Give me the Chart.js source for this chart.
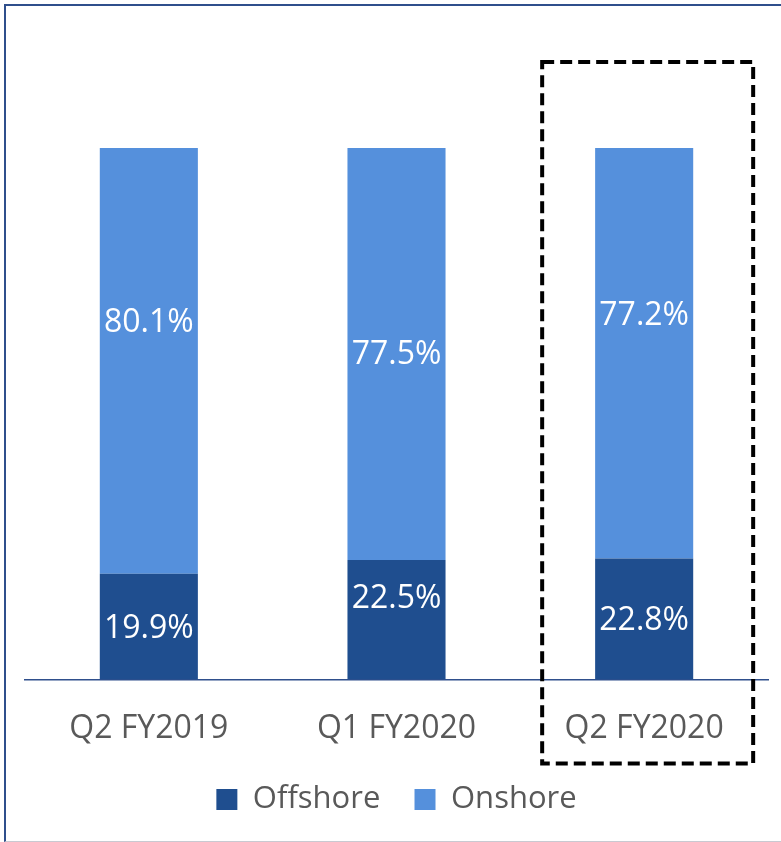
<!DOCTYPE html>
<html>
<head>
<meta charset="utf-8">
<script src="https://cdn.jsdelivr.net/npm/chart.js@4.4.0/dist/chart.umd.min.js"></script>
<style>
  body { margin: 0; background: #fff; }
  #wrap { position: relative; width: 781px; height: 842px; overflow: hidden; }
  #frame {
    position: absolute; left: 4px; top: 4px; width: 800px; height: 835px;
    border-top: 2px solid #2f4f8c; border-left: 2px solid #2f4f8c;
    border-bottom: 1px solid #c9c9d1;
  }
  #chartBox { position: absolute; left: 0; top: 0; width: 781px; height: 842px; }
</style>
</head>
<body>
<div id="wrap">
  <div id="frame"></div>
  <div id="chartBox"><canvas id="chart"></canvas></div>
</div>
<script>
// data
const categories = ["Q2 FY2019", "Q1 FY2020", "Q2 FY2020"];
const offshore = [19.9, 22.5, 22.8];
const onshore = [80.1, 77.5, 77.2];

// label nudges (px) - labels were moved by hand in the original
const offshoreShift = [2, -21, 2];
const onshoreShift = [-38, 1, -37];

const highlightIndex = 2;

// draws the % labels inside the bars
const barLabels = {
  id: "barLabels",
  afterDatasetsDraw(chart) {
    const ctx = chart.ctx;
    ctx.save();
    ctx.fillStyle = "#ffffff";
    ctx.font = "32px 'Open Sans'";
    ctx.textAlign = "center";
    ctx.textBaseline = "middle";
    chart.data.datasets.forEach((ds, di) => {
      const meta = chart.getDatasetMeta(di);
      const shift = di === 0 ? offshoreShift : onshoreShift;
      meta.data.forEach((bar, i) => {
        const mid = (bar.y + bar.base) / 2;
        ctx.fillText(ds.data[i].toFixed(1) + "%", bar.x, mid + shift[i]);
      });
    });
    ctx.restore();
  }
};

// dashed box around the latest quarter
const highlightBox = {
  id: "highlightBox",
  afterDraw(chart) {
    const x = chart.scales.x.getPixelForValue(highlightIndex);
    const top = chart.scales.y.getPixelForValue(100) - 86;
    const bottom = chart.chartArea.bottom + 84;
    const ctx = chart.ctx;
    ctx.save();
    ctx.strokeStyle = "#000";
    ctx.lineWidth = 4;
    ctx.setLineDash([12, 6]);
    ctx.strokeRect(x - 102, top, 211, bottom - top);
    ctx.restore();
  }
};

new Chart(document.getElementById("chart"), {
  type: "bar",
  data: {
    labels: categories,
    datasets: [
      { label: "Offshore", data: offshore, backgroundColor: "#1f4e8f" },
      { label: "Onshore", data: onshore, backgroundColor: "#5590dc" }
    ]
  },
  options: {
    responsive: true,
    maintainAspectRatio: false,
    animation: false,
    layout: { padding: { top: 148, left: 25, right: 13, bottom: 17 } },
    datasets: { bar: { categoryPercentage: 1, barPercentage: 0.396 } },
    scales: {
      x: {
        stacked: true,
        grid: { display: false },
        border: { display: true, color: "#2f4f8c", width: 1.5 },
        ticks: { color: "#595959", font: { family: "Open Sans", size: 32 }, padding: 22 },
        afterFit(scale) { scale.height = scale.height + 4; }
      },
      y: { stacked: true, display: false, min: 0, max: 100 }
    },
    plugins: {
      tooltip: { enabled: false },
      legend: {
        position: "bottom",
        labels: {
          color: "#595959",
          font: { family: "Open Sans", size: 31 },
          boxWidth: 21,
          boxHeight: 21,
          padding: 10,
          // wider gap between the two entries, like the original
          generateLabels(chart) {
            const items = Chart.defaults.plugins.legend.labels.generateLabels(chart);
            items[0].text = items[0].text + "   ";
            return items;
          }
        }
      }
    }
  },
  plugins: [barLabels, highlightBox]
});
</script>
</body>
</html>
